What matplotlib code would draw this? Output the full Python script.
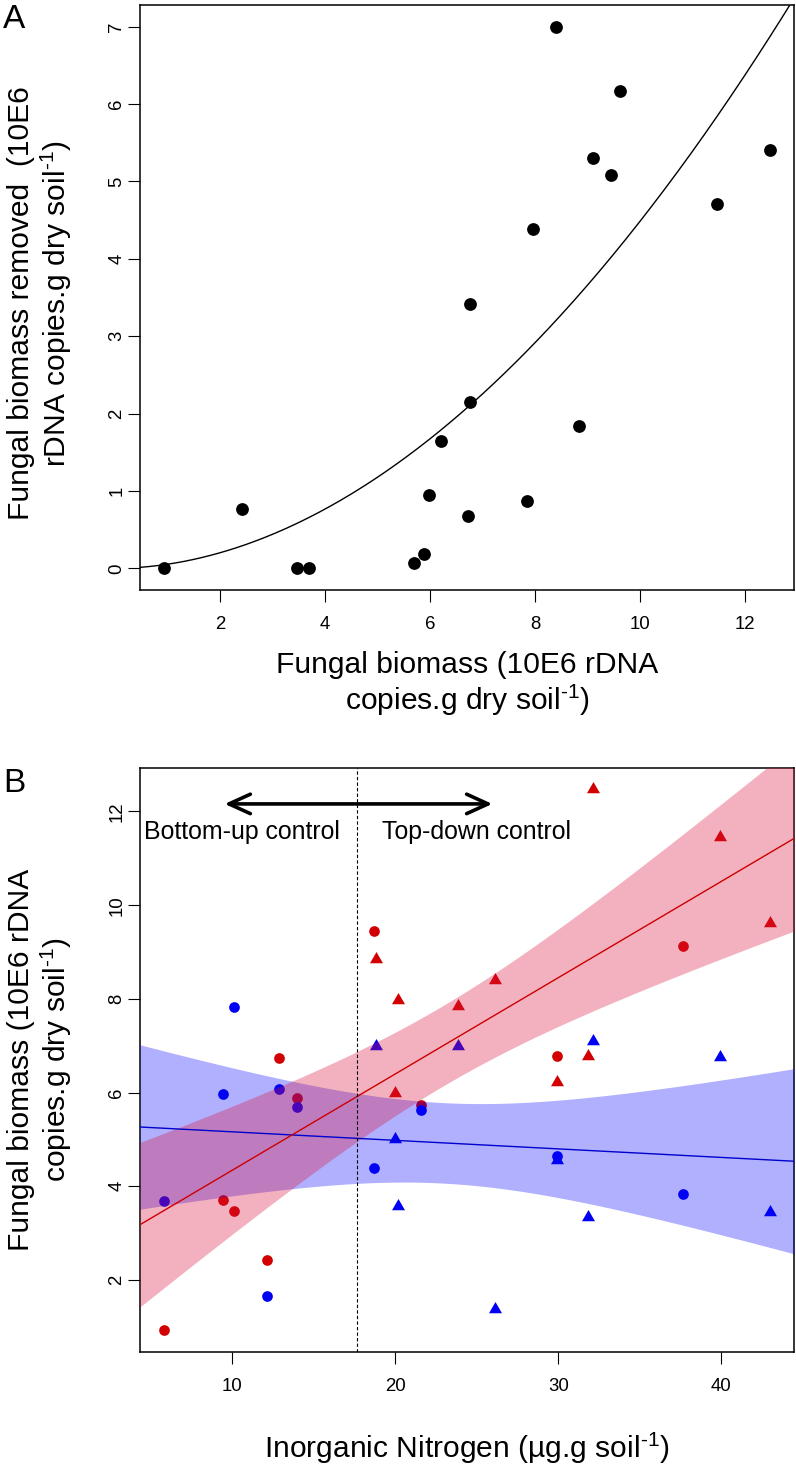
import numpy as np
import matplotlib
matplotlib.use("Agg")
import matplotlib.pyplot as plt
from matplotlib.path import Path

plt.rcParams['font.family'] = ['Liberation Sans', 'DejaVu Sans']
plt.rcParams['mathtext.fontset'] = 'custom'
plt.rcParams['mathtext.rm'] = 'Liberation Sans'
plt.rcParams['mathtext.it'] = 'Liberation Sans:italic'

# panel A: fungal biomass vs biomass removed
biomass_a = [0.94, 2.42, 3.46, 3.70, 5.69, 5.88, 5.98, 6.21, 6.72, 6.77,
             6.77, 7.84, 8.84, 7.97, 8.40, 9.11, 9.44, 9.61, 11.46, 12.47]
removed_a = [0.00, 0.77, 0.00, 0.00, 0.07, 0.18, 0.95, 1.64, 0.67, 2.15,
             3.41, 0.87, 1.84, 4.39, 7.00, 5.30, 5.08, 6.17, 4.71, 5.40]
curve_coef = [0.0527, 1.93]   # y = a * x^b

# panel B: inorganic N vs fungal biomass
n_circle = [5.85, 9.47, 10.13, 12.17, 12.88, 13.97, 18.68, 21.60, 29.91, 37.62]
red_circle = [0.93, 3.71, 3.47, 2.42, 6.73, 5.89, 9.45, 5.73, 6.78, 9.13]
blue_circle = [3.69, 5.97, 7.82, 1.66, 6.07, 5.70, 4.38, 5.63, 4.65, 3.84]
n_tri = [18.82, 20.15, 20.02, 23.86, 26.12, 29.93, 31.79, 32.14, 39.88, 42.96]
red_tri = [8.84, 7.98, 5.98, 7.84, 8.41, 6.22, 6.77, 12.47, 11.45, 9.62]
blue_tri = [6.99, 3.57, 5.01, 6.99, 1.38, 4.55, 3.35, 7.09, 6.75, 3.45]

n_threshold = 17.65
arrow_x = [9.55, 25.96]
arrow_y = 12.16
t_975 = 2.028   # t quantile, 36 df

RED = '#D20000'
BLUE = '#0000F2'

tri = Path([(0, 1.555), (1.347, -0.778), (-1.347, -0.778), (0, 1.555)],
           [Path.MOVETO, Path.LINETO, Path.LINETO, Path.CLOSEPOLY])

unit = 'copies.g dry soil$^{\\text{-}1}$)'


def r_range(v):
    lo, hi = min(v), max(v)
    d = 0.04 * (hi - lo)
    return lo - d, hi + d


def style_axes(ax):
    for s in ax.spines.values():
        s.set_linewidth(1.1)
    ax.tick_params(direction='out', length=8.6, width=0.8, labelsize=13.4)
    ax.tick_params(axis='x', pad=10)
    ax.tick_params(axis='y', pad=2)
    for lab in ax.get_yticklabels():
        lab.set_rotation(90)
        lab.set_va('center')


fig = plt.figure(figsize=(7.96, 14.68), dpi=100)

# ---------- panel A ----------
ax1 = fig.add_axes([0.1759, 0.5981, 0.8216, 0.3985])
ax1.plot(biomass_a, removed_a, 'o', color='black', ms=9.2, mew=0)
xl = r_range(biomass_a)
xs = np.linspace(xl[0], xl[1], 300)
ax1.plot(xs, curve_coef[0] * xs ** curve_coef[1], color='black', lw=1.0)
ax1.set_xlim(xl)
ax1.set_ylim(r_range(removed_a))
ax1.set_xticks(range(2, 13, 2))
ax1.set_yticks(range(0, 8))
style_axes(ax1)
ax1.text(0.5, -0.162, 'Fungal biomass (10E6 rDNA\n' + unit,
         transform=ax1.transAxes, ha='center', va='center',
         multialignment='center', fontsize=21.6, linespacing=1.15)
ax1.text(-0.152, 0.49, 'Fungal biomass removed  (10E6\nrDNA ' + unit,
         transform=ax1.transAxes, ha='center', va='center', rotation=90,
         multialignment='center', fontsize=21.6, linespacing=1.15)

# ---------- panel B ----------
ax2 = fig.add_axes([0.1759, 0.0792, 0.8216, 0.3978])
n_all = np.array(n_circle + n_tri)
red_all = np.array(red_circle + red_tri)
blue_all = np.array(blue_circle + blue_tri)

ax2.plot(n_circle, red_circle, 'o', color=RED, ms=7.7, mew=0, zorder=2)
ax2.plot(n_tri, red_tri, marker=tri, ls='none', color=RED, ms=10.8, mew=0,
         zorder=2)
ax2.plot(n_circle, blue_circle, 'o', color=BLUE, ms=7.7, mew=0, zorder=2)
ax2.plot(n_tri, blue_tri, marker=tri, ls='none', color=BLUE, ms=10.8, mew=0,
         zorder=2)

# pooled-variance linear fits with 95% confidence bands
xl2 = r_range(n_all)
xs2 = np.linspace(xl2[0], xl2[1], 300)
fits = []
sse = 0
for yv in (blue_all, red_all):
    b, a = np.polyfit(n_all, yv, 1)
    sse += np.sum((yv - (a + b * n_all)) ** 2)
    fits.append((a, b))
s = np.sqrt(sse / (2 * len(n_all) - 4))
sxx = np.sum((n_all - n_all.mean()) ** 2)
se = s * np.sqrt(1 / len(n_all) + (xs2 - n_all.mean()) ** 2 / sxx)

band_cols = [((0, 0, 1), 0.31), ((0.86, 0.08, 0.24), 0.33)]
line_cols = ['#0000CC', '#CC0000']
for i, ((a, b), (bc, al)) in enumerate(zip(fits, band_cols)):
    pred = a + b * xs2
    ax2.fill_between(xs2, pred - t_975 * se, pred + t_975 * se,
                     color=bc, alpha=al, lw=0, zorder=3 + i)
for (a, b), lc in zip(fits, line_cols):
    ax2.plot(xs2, a + b * xs2, color=lc, lw=1.0, zorder=6)

ax2.axvline(n_threshold, color='black', ls=(0, (3, 2)), lw=0.8, zorder=6)
ax2.annotate('', xy=(arrow_x[0], arrow_y), xytext=(arrow_x[1], arrow_y),
             arrowprops=dict(arrowstyle='<->,head_length=1.1,head_width=0.5',
                             lw=2.6, color='black', shrinkA=0, shrinkB=0,
                             mutation_scale=14), zorder=7)
ax2.text(10.59, 11.41, 'Bottom-up control', ha='center', va='baseline',
         fontsize=17.9, zorder=7)
ax2.text(24.98, 11.41, 'Top-down control', ha='center', va='baseline',
         fontsize=17.9, zorder=7)

ax2.set_xlim(xl2)
ax2.set_ylim(r_range(np.concatenate([red_all, blue_all])))
ax2.set_xticks([10, 20, 30, 40])
ax2.set_yticks(range(2, 13, 2))
style_axes(ax2)
ax2.text(0.5, -0.165, 'Inorganic Nitrogen (µg.g soil$^{\\text{-}1}$)',
         transform=ax2.transAxes, ha='center', va='center', fontsize=21.6)
ax2.text(-0.152, 0.5, 'Fungal biomass (10E6 rDNA\n' + unit,
         transform=ax2.transAxes, ha='center', va='center', rotation=90,
         multialignment='center', fontsize=21.6, linespacing=1.15)

fig.text(14 / 796, 1 - 20 / 1468, 'A', ha='center', va='center', fontsize=24)
fig.text(14 / 796, 1 - 783 / 1468, 'B', ha='center', va='center', fontsize=24)

fig.savefig('out.png', dpi=100)
